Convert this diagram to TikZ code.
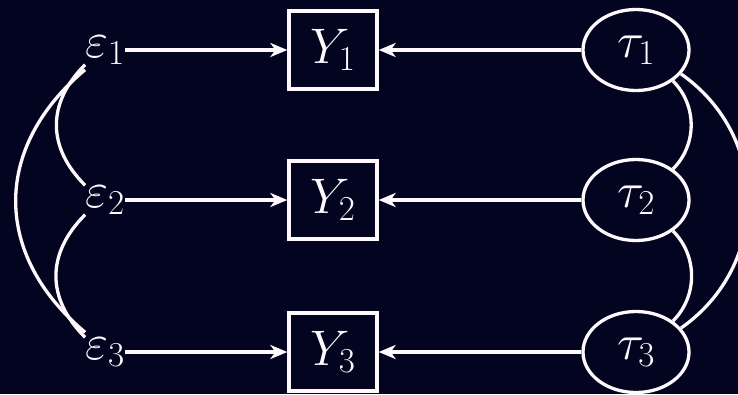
\RequirePackage{fix-cm}
\documentclass[tikz,border=0pt]{standalone}
\usetikzlibrary{shapes.geometric,arrows.meta}
\definecolor{bgnavy}{RGB}{2,4,32}
\definecolor{fg}{RGB}{255,248,252}
\begin{document}
\begin{tikzpicture}[x=1pt,y=-1pt,
  every node/.style={font=\fontsize{50}{54}\selectfont, text=fg},
  errnode/.style={inner sep=0pt},
  obsbox/.style={draw=fg, line width=3.3pt, minimum width=88pt, minimum height=78pt, inner sep=0pt},
  latent/.style={ellipse, draw=fg, line width=3.3pt, minimum width=106pt, minimum height=81pt, inner sep=0pt},
  arr/.style={draw=fg, line width=3.3pt, -{Stealth[length=17pt,width=14pt,inset=5pt]}},
  cov/.style={draw=fg, line width=3.3pt}]
\fill[bgnavy] (0,0) rectangle (738,394);
\useasboundingbox (0,0) rectangle (738,394);
\foreach \i/\y in {1/50,2/200,3/352}{
  \node[errnode] (e\i) at (105,\y) {$\varepsilon_{\i}$};
  \node[obsbox] (y\i) at (333,\y) {$Y_{\i}$};
  \node[latent] (t\i) at (636,\y) {$\tau_{\i}$};
  \draw[arr] (e\i) -- (y\i);
  \draw[arr] (t\i) -- (y\i);
}
% left covariances
\draw[cov] (e1.south west) to[out=225,in=135,looseness=1.15] (e2.north west);
\draw[cov] (e2.south west) to[out=225,in=135,looseness=1.15] (e3.north west);
\draw[cov] ([yshift=-5pt]e1.south west) to[out=220,in=140,looseness=1.18] ([yshift=5pt]e3.north west);
% right covariances
\draw[cov] (t1.-40) to[out=-45,in=45] (t2.40);
\draw[cov] (t2.-40) to[out=-45,in=45] (t3.40);
\draw[cov] (t1.-28) to[out=-35,in=35,looseness=1.1] (t3.28);
\end{tikzpicture}
\end{document}
